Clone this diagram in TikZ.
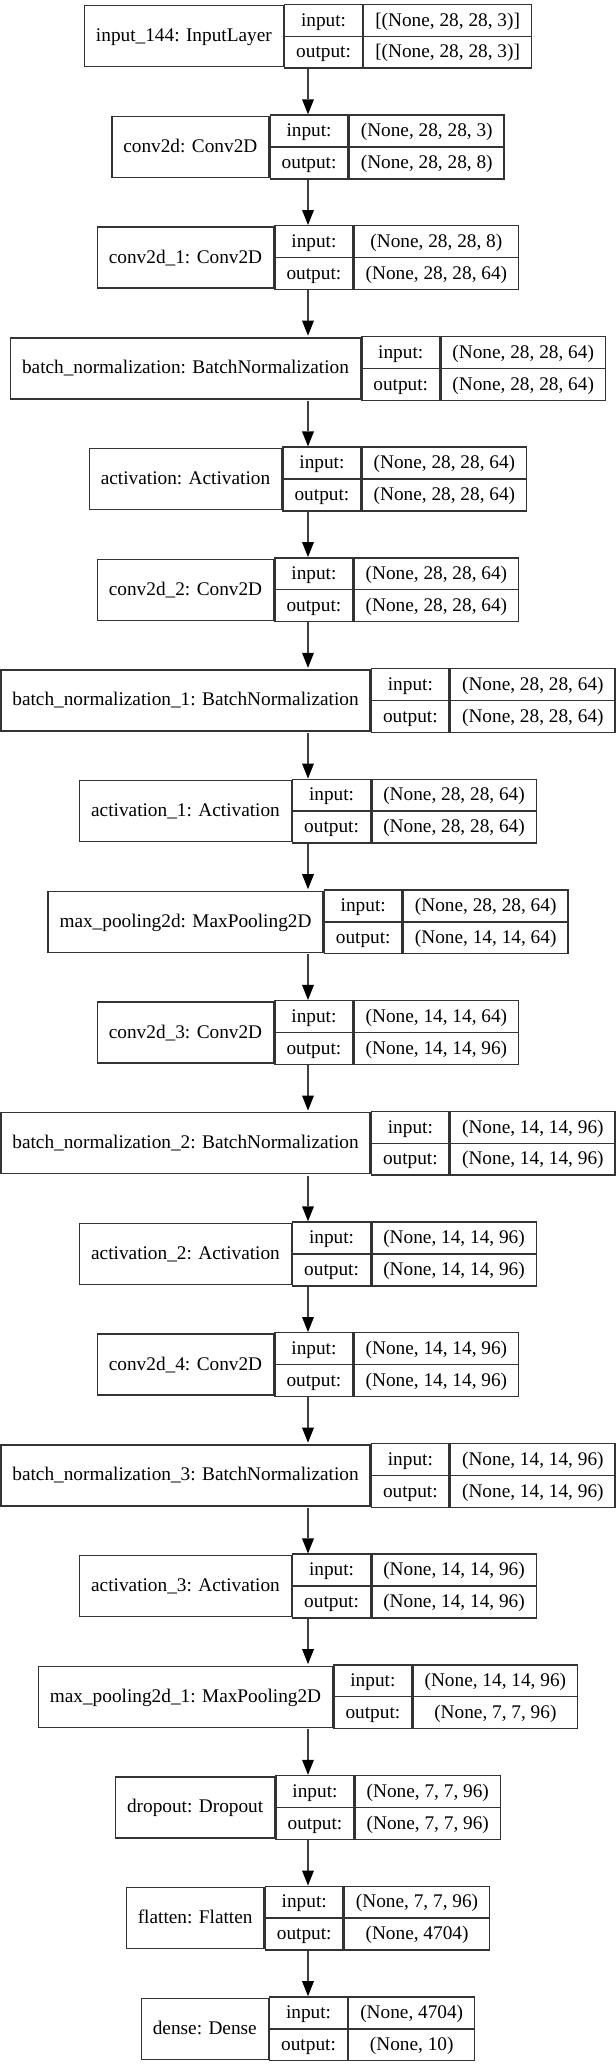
\documentclass[tikz,border=0pt]{standalone}
\usepackage{fontspec}
\setmainfont{Liberation Serif}
\usepackage{tikz}
\usetikzlibrary{
  arrows.meta,
  shapes.multipart,
  matrix,
  chains,
  scopes
}
\newcommand{\rowstrut}{\rule[-9.5pt]{0pt}{30.5pt}}
\newcommand{\namestrut}{\rule[-25pt]{0pt}{61pt}}
\newcommand{\iorows}[2]{\rowstrut#1\nodepart{two}\rowstrut#2}

\begin{document}
\begin{tikzpicture}[
      x=1pt, y=-1pt,
      font=\fontsize{19.3pt}{23pt}\selectfont,
      >={Triangle[length=15pt,width=12pt,line width=0pt,black]},
      layer/.style={
         matrix,
         inner sep=0pt,
         outer sep=0pt,
         column sep=0pt,
         nodes={
            draw=black!80,
            line width=1.4pt,
            outer sep=0pt,
            inner xsep=11.5pt,
            inner ysep=0pt,
            anchor=center
         }
      },
      namecell/.style={execute at begin node=\namestrut},
      iocell/.style={rectangle split, rectangle split parts=2},
      link/.style={->, line width=1.6pt, draw=black!75}
    ]
    \useasboundingbox (0,0) rectangle (616,2065);
    \matrix (l0) [layer] at (308,36.2) {
      \node[namecell] {input\_144: InputLayer}; &
      \node[iocell] {\iorows{input:}{output:}}; &
      \node[iocell] {\iorows{[(None, 28, 28, 3)]}{[(None, 28, 28, 3)]}}; \\
    };
    \matrix (l1) [layer] at (308,146.9) {
      \node[namecell] {conv2d: Conv2D}; &
      \node[iocell] {\iorows{input:}{output:}}; &
      \node[iocell] {\iorows{(None, 28, 28, 3)}{(None, 28, 28, 8)}}; \\
    };
    \matrix (l2) [layer] at (308,257.6) {
      \node[namecell] {conv2d\_1: Conv2D}; &
      \node[iocell] {\iorows{input:}{output:}}; &
      \node[iocell] {\iorows{(None, 28, 28, 8)}{(None, 28, 28, 64)}}; \\
    };
    \matrix (l3) [layer] at (308,368.3) {
      \node[namecell] {batch\_normalization: BatchNormalization}; &
      \node[iocell] {\iorows{input:}{output:}}; &
      \node[iocell] {\iorows{(None, 28, 28, 64)}{(None, 28, 28, 64)}}; \\
    };
    \matrix (l4) [layer] at (308,479.0) {
      \node[namecell] {activation: Activation}; &
      \node[iocell] {\iorows{input:}{output:}}; &
      \node[iocell] {\iorows{(None, 28, 28, 64)}{(None, 28, 28, 64)}}; \\
    };
    \matrix (l5) [layer] at (308,589.7) {
      \node[namecell] {conv2d\_2: Conv2D}; &
      \node[iocell] {\iorows{input:}{output:}}; &
      \node[iocell] {\iorows{(None, 28, 28, 64)}{(None, 28, 28, 64)}}; \\
    };
    \matrix (l6) [layer] at (308,700.4) {
      \node[namecell] {batch\_normalization\_1: BatchNormalization}; &
      \node[iocell] {\iorows{input:}{output:}}; &
      \node[iocell] {\iorows{(None, 28, 28, 64)}{(None, 28, 28, 64)}}; \\
    };
    \matrix (l7) [layer] at (308,811.1) {
      \node[namecell] {activation\_1: Activation}; &
      \node[iocell] {\iorows{input:}{output:}}; &
      \node[iocell] {\iorows{(None, 28, 28, 64)}{(None, 28, 28, 64)}}; \\
    };
    \matrix (l8) [layer] at (308,921.8) {
      \node[namecell] {max\_pooling2d: MaxPooling2D}; &
      \node[iocell] {\iorows{input:}{output:}}; &
      \node[iocell] {\iorows{(None, 28, 28, 64)}{(None, 14, 14, 64)}}; \\
    };
    \matrix (l9) [layer] at (308,1032.5) {
      \node[namecell] {conv2d\_3: Conv2D}; &
      \node[iocell] {\iorows{input:}{output:}}; &
      \node[iocell] {\iorows{(None, 14, 14, 64)}{(None, 14, 14, 96)}}; \\
    };
    \matrix (l10) [layer] at (308,1143.2) {
      \node[namecell] {batch\_normalization\_2: BatchNormalization}; &
      \node[iocell] {\iorows{input:}{output:}}; &
      \node[iocell] {\iorows{(None, 14, 14, 96)}{(None, 14, 14, 96)}}; \\
    };
    \matrix (l11) [layer] at (308,1253.9) {
      \node[namecell] {activation\_2: Activation}; &
      \node[iocell] {\iorows{input:}{output:}}; &
      \node[iocell] {\iorows{(None, 14, 14, 96)}{(None, 14, 14, 96)}}; \\
    };
    \matrix (l12) [layer] at (308,1364.6) {
      \node[namecell] {conv2d\_4: Conv2D}; &
      \node[iocell] {\iorows{input:}{output:}}; &
      \node[iocell] {\iorows{(None, 14, 14, 96)}{(None, 14, 14, 96)}}; \\
    };
    \matrix (l13) [layer] at (308,1475.3) {
      \node[namecell] {batch\_normalization\_3: BatchNormalization}; &
      \node[iocell] {\iorows{input:}{output:}}; &
      \node[iocell] {\iorows{(None, 14, 14, 96)}{(None, 14, 14, 96)}}; \\
    };
    \matrix (l14) [layer] at (308,1586.0) {
      \node[namecell] {activation\_3: Activation}; &
      \node[iocell] {\iorows{input:}{output:}}; &
      \node[iocell] {\iorows{(None, 14, 14, 96)}{(None, 14, 14, 96)}}; \\
    };
    \matrix (l15) [layer] at (308,1696.7) {
      \node[namecell] {max\_pooling2d\_1: MaxPooling2D}; &
      \node[iocell] {\iorows{input:}{output:}}; &
      \node[iocell] {\iorows{(None, 14, 14, 96)}{(None, 7, 7, 96)}}; \\
    };
    \matrix (l16) [layer] at (308,1807.4) {
      \node[namecell] {dropout: Dropout}; &
      \node[iocell] {\iorows{input:}{output:}}; &
      \node[iocell] {\iorows{(None, 7, 7, 96)}{(None, 7, 7, 96)}}; \\
    };
    \matrix (l17) [layer] at (308,1918.1) {
      \node[namecell] {flatten: Flatten}; &
      \node[iocell] {\iorows{input:}{output:}}; &
      \node[iocell] {\iorows{(None, 7, 7, 96)}{(None, 4704)}}; \\
    };
    \matrix (l18) [layer] at (308,2028.8) {
      \node[namecell] {dense: Dense}; &
      \node[iocell] {\iorows{input:}{output:}}; &
      \node[iocell] {\iorows{(None, 4704)}{(None, 10)}}; \\
    };
  { [start chain]
       \chainin (l0);
       \chainin (l1)    [join=by link];
       \chainin (l2)    [join=by link];
       \chainin (l3)    [join=by link];
       \chainin (l4)    [join=by link];
       \chainin (l5)    [join=by link];
       \chainin (l6)    [join=by link];
       \chainin (l7)    [join=by link];
       \chainin (l8)    [join=by link];
       \chainin (l9)    [join=by link];
       \chainin (l10)   [join=by link];
       \chainin (l11)   [join=by link];
       \chainin (l12)   [join=by link];
       \chainin (l13)   [join=by link];
       \chainin (l14)   [join=by link];
       \chainin (l15)   [join=by link];
       \chainin (l16)   [join=by link];
       \chainin (l17)   [join=by link];
       \chainin (l18)   [join=by link];
  }
\end{tikzpicture}
\end{document}
